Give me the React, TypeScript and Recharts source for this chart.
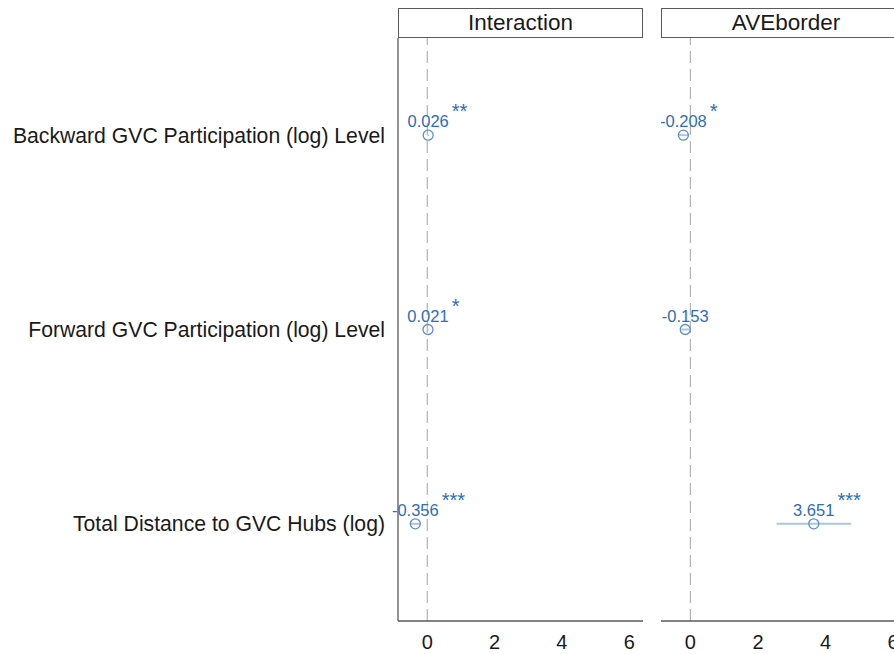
import React from 'react';
import { ScatterChart, Scatter, XAxis, YAxis, ErrorBar, ReferenceLine } from 'recharts';

const terms = [
  'Backward GVC Participation (log) Level',
  'Forward GVC Participation (log) Level',
  'Total Distance to GVC Hubs (log)',
];

const panels = ['Interaction', 'AVEborder'];

const interactionCoef = [0.026, 0.021, -0.356];
const interactionErr = [0.02, 0.02, 0.15];
const interactionStars = ['**', '*', '***'];

const aveborderCoef = [-0.208, -0.153, 3.651];
const aveborderErr = [0.15, 0.12, 1.1];
const aveborderStars = ['*', '', '***'];

const xTicks = [0, 2, 4, 6];

const BLUE = '#2f6db5';
const CI_BLUE = '#a8c5e6';
const AXIS = '#5a5a5a';
const FONT = '"Liberation Sans", Arial, Helvetica, sans-serif';
const LABEL_SIZE = 16.5;

function buildRows(coef: number[], err: number[], stars: string[]) {
  return terms.map((name, i) => ({ name, value: coef[i], err: err[i], stars: stars[i] }));
}

// rough Arial widths, good enough for putting the stars after the number
function textWidth(s: string, size: number) {
  let w = 0;
  for (const ch of s) {
    if (ch === '.') w += 0.278;
    else if (ch === '-') w += 0.333;
    else w += 0.556;
  }
  return w * size;
}

function PointShape(props: any) {
  const { cx, cy, payload } = props;
  if (cx == null || cy == null) return null;
  const label = payload.value.toFixed(3);
  const half = textWidth(label, LABEL_SIZE) / 2;
  return (
    <g>
      <circle cx={cx} cy={cy} r={5} fill="none" stroke="#5d8fcc" strokeWidth={1.3} />
      <text x={cx} y={cy - 8} textAnchor="middle" fontSize={LABEL_SIZE} fill={BLUE} fontFamily={FONT}>
        {label}
      </text>
      {payload.stars && (
        <text x={cx + half + 3} y={cy - 17} textAnchor="start" fontSize={20} fill={BLUE} fontFamily={FONT}>
          {payload.stars}
        </text>
      )}
    </g>
  );
}

function Strip({ title, left, width }: { title: string; left: number; width: number }) {
  return (
    <div
      style={{
        position: 'absolute',
        left,
        top: 8,
        width,
        height: 30,
        boxSizing: 'border-box',
        border: `1.3px solid ${AXIS}`,
        textAlign: 'center',
        lineHeight: '28px',
        fontSize: 22.5,
        color: '#1a1a1a',
        fontFamily: FONT,
      }}
    >
      {title}
    </div>
  );
}

function Panel({ rows, showY, width }: { rows: any[]; showY: boolean; width: number }) {
  return (
    <ScatterChart width={width} height={654} margin={{ top: 38, right: 0, bottom: 0, left: 0 }}>
      <XAxis
        type="number"
        dataKey="value"
        domain={[-0.87, 6.41]}
        ticks={xTicks}
        tickLine={false}
        tickSize={0}
        tickMargin={14}
        height={33}
        axisLine={{ stroke: AXIS, strokeWidth: 1.3 }}
        tick={{ fontSize: 20, fill: '#1a1a1a', fontFamily: FONT }}
      />
      <YAxis
        type="category"
        dataKey="name"
        hide={!showY}
        width={showY ? 398 : 0}
        reversed
        tickLine={false}
        tickSize={0}
        tickMargin={13}
        axisLine={{ stroke: AXIS, strokeWidth: 1.3 }}
        tick={{ fontSize: 21.2, fill: '#1a1a1a', fontFamily: FONT }}
      />
      <ReferenceLine x={0} stroke="#b3b3b3" strokeWidth={1.2} strokeDasharray="12 6" />
      <Scatter data={rows} shape={PointShape} isAnimationActive={false}>
        <ErrorBar dataKey="err" direction="x" width={0} stroke={CI_BLUE} strokeWidth={2} />
      </Scatter>
    </ScatterChart>
  );
}

export default function App() {
  return (
    <div
      style={{
        position: 'absolute',
        left: 0,
        top: 0,
        width: 894,
        height: 654,
        overflow: 'hidden',
        background: '#fff',
      }}
    >
      <div style={{ position: 'absolute', left: 0, top: 0 }}>
        <Panel rows={buildRows(interactionCoef, interactionErr, interactionStars)} showY width={643} />
      </div>
      <div style={{ position: 'absolute', left: 661, top: 0 }}>
        <Panel rows={buildRows(aveborderCoef, aveborderErr, aveborderStars)} showY={false} width={246} />
      </div>
      <Strip title={panels[0]} left={398} width={245} />
      <Strip title={panels[1]} left={661} width={250} />
    </div>
  );
}
